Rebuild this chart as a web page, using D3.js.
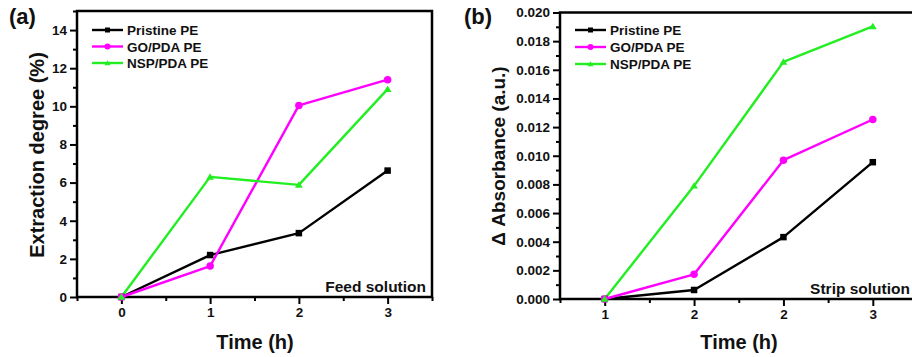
<!DOCTYPE html>
<html><head><meta charset="utf-8">
<script src="https://cdn.jsdelivr.net/npm/d3@7"></script>
<style>
html,body{margin:0;padding:0;background:#fff;}
svg{display:block;font-family:Arial,"Liberation Sans",sans-serif;font-weight:bold;}
</style></head>
<body><svg id="c" width="912" height="357"></svg>
<script>
const seriesNames = ["Pristine PE", "GO/PDA PE", "NSP/PDA PE"];
const seriesColors = ["#000000", "#ff00ff", "#22ee22"];
const seriesMarkers = ["square", "circle", "triangle"];

// Panel (a): Feed solution
const timeA = [0, 1, 2, 3];
const xTickLabelsA = ["0", "1", "2", "3"];
const pristineA = [0, 2.2, 3.35, 6.63];
const goPdaA = [0, 1.62, 10.05, 11.4];
const nspPdaA = [0, 6.3, 5.88, 10.9];
const yTicksA = [0, 2, 4, 6, 8, 10, 12, 14];

// Panel (b): Strip solution
const timeB = [0, 1, 2, 3];
const xTickLabelsB = ["1", "2", "2", "3"];
const pristineB = [0, 0.00063, 0.00432, 0.00955];
const goPdaB = [0, 0.00172, 0.00969, 0.01253];
const nspPdaB = [0, 0.0079, 0.01655, 0.01903];
const yTicksB = [0, 0.002, 0.004, 0.006, 0.008, 0.010, 0.012, 0.014, 0.016, 0.018, 0.020];

const svg = d3.select("#c");

function marker(g, type, x, y, color, s) {
  if (type === "square") {
    g.append("rect").attr("x", x - s/2).attr("y", y - s/2).attr("width", s).attr("height", s).attr("fill", color);
  } else if (type === "circle") {
    g.append("circle").attr("cx", x).attr("cy", y).attr("r", s/2 + 0.5).attr("fill", color);
  } else {
    const h = s * 0.95;
    g.append("path").attr("d", `M${x},${y - h*0.6}L${x + s*0.6},${y + h*0.45}L${x - s*0.6},${y + h*0.45}Z`).attr("fill", color);
  }
}

function panel(cfg) {
  const g = svg.append("g");
  const x = d3.scaleLinear().domain([-0.5, 3.5]).range([cfg.left, cfg.right]);
  const y = d3.scaleLinear().domain(cfg.yDomain).range([cfg.bottom, cfg.top]);

  const yAxisMinor = d3.axisLeft(y).tickValues(cfg.yMinor).tickSize(4).tickFormat("");
  const yAxis = d3.axisLeft(y).tickValues(cfg.yTicks).tickSize(7).tickFormat(cfg.yFormat).tickPadding(3);
  const xAxisMinor = d3.axisBottom(x).tickValues([-0.5, 0.5, 1.5, 2.5, 3.5]).tickSize(4).tickFormat("");
  const xAxis = d3.axisBottom(x).tickValues(cfg.time).tickSize(7).tickFormat((d, i) => cfg.xLabels[i]).tickPadding(3);

  const gy1 = g.append("g").attr("transform", `translate(${cfg.left},0)`).call(yAxisMinor);
  const gy = g.append("g").attr("transform", `translate(${cfg.left},0)`).call(yAxis);
  const gx1 = g.append("g").attr("transform", `translate(0,${cfg.bottom})`).call(xAxisMinor);
  const gx = g.append("g").attr("transform", `translate(0,${cfg.bottom})`).call(xAxis);
  [gy1, gy, gx1, gx].forEach(a => {
    a.select(".domain").remove();
    a.selectAll(".tick line").attr("stroke", "#000").attr("stroke-width", 2);
    a.selectAll("text").attr("font-size", 13.5).attr("font-weight", "bold").attr("fill", "#111")
      .attr("font-family", "Arial, 'Liberation Sans', sans-serif");
  });

  g.append("rect").attr("x", cfg.left).attr("y", cfg.top)
    .attr("width", cfg.right - cfg.left).attr("height", cfg.bottom - cfg.top)
    .attr("fill", "none").attr("stroke", "#000").attr("stroke-width", 2.5);

  const line = d3.line().x((d, i) => x(cfg.time[i])).y(d => y(d));
  cfg.series.forEach((vals, k) => {
    g.append("path").attr("d", line(vals)).attr("fill", "none")
      .attr("stroke", seriesColors[k]).attr("stroke-width", 2.4).attr("stroke-linejoin", "round");
  });
  cfg.series.forEach((vals, k) => {
    vals.forEach((v, i) => marker(g, seriesMarkers[k], x(cfg.time[i]), y(v), seriesColors[k], 6.5));
  });

  seriesNames.forEach((n, k) => {
    const ly = cfg.legY[k];
    g.append("line").attr("x1", cfg.legX).attr("x2", cfg.legX + 31).attr("y1", ly).attr("y2", ly)
      .attr("stroke", seriesColors[k]).attr("stroke-width", 2.4);
    marker(g, seriesMarkers[k], cfg.legX + 15.5, ly, seriesColors[k], 5);
    g.append("text").attr("x", cfg.legX + 35).attr("y", ly + 5).attr("font-size", 13.5).attr("fill", "#111").text(n);
  });

  g.append("text").attr("x", cfg.noteX).attr("y", cfg.bottom - 5).attr("text-anchor", "end")
    .attr("font-size", 15.5).attr("fill", "#111").text(cfg.note);

  g.append("text").attr("x", cfg.titleX).attr("y", 349)
    .attr("text-anchor", "middle").attr("font-size", 20).attr("fill", "#111").text("Time (h)");
  g.append("text").attr("transform", `translate(${cfg.yTitleX},${cfg.yTitleY}) rotate(-90)`)
    .attr("text-anchor", "middle").attr("font-size", cfg.yTitleSize).attr("fill", "#111").text(cfg.yTitle);
  g.append("text").attr("x", cfg.labelX).attr("y", 24).attr("font-size", 22).attr("fill", "#111").text(cfg.label);
  return g;
}

panel({
  left: 77, right: 432, top: 11, bottom: 297,
  yDomain: [0, 15], yTicks: yTicksA, yMinor: [1, 3, 5, 7, 9, 11, 13, 15], yFormat: d3.format("d"),
  time: timeA, xLabels: xTickLabelsA,
  series: [pristineA, goPdaA, nspPdaA],
  legX: 92, legY: [30, 46.5, 63],
  note: "Feed solution", noteX: 426,
  titleX: 255,
  yTitle: "Extraction degree (%)", yTitleX: 44, yTitleY: 155, yTitleSize: 20,
  label: "(a)", labelX: 9
});

panel({
  left: 560, right: 917.5, top: 12.5, bottom: 299,
  yDomain: [0, 0.02], yTicks: yTicksB, yMinor: d3.range(0, 21).map(d => d * 0.001).filter((d, i) => i % 2 === 1),
  yFormat: d3.format(".3f"),
  time: timeB, xLabels: xTickLabelsB,
  series: [pristineB, goPdaB, nspPdaB],
  legX: 575, legY: [30, 47, 64],
  note: "Strip solution", noteX: 910,
  titleX: 739,
  yTitle: "\u0394 Absorbance (a.u.)", yTitleX: 505, yTitleY: 156, yTitleSize: 19,
  label: "(b)", labelX: 464
});
</script></body></html>
